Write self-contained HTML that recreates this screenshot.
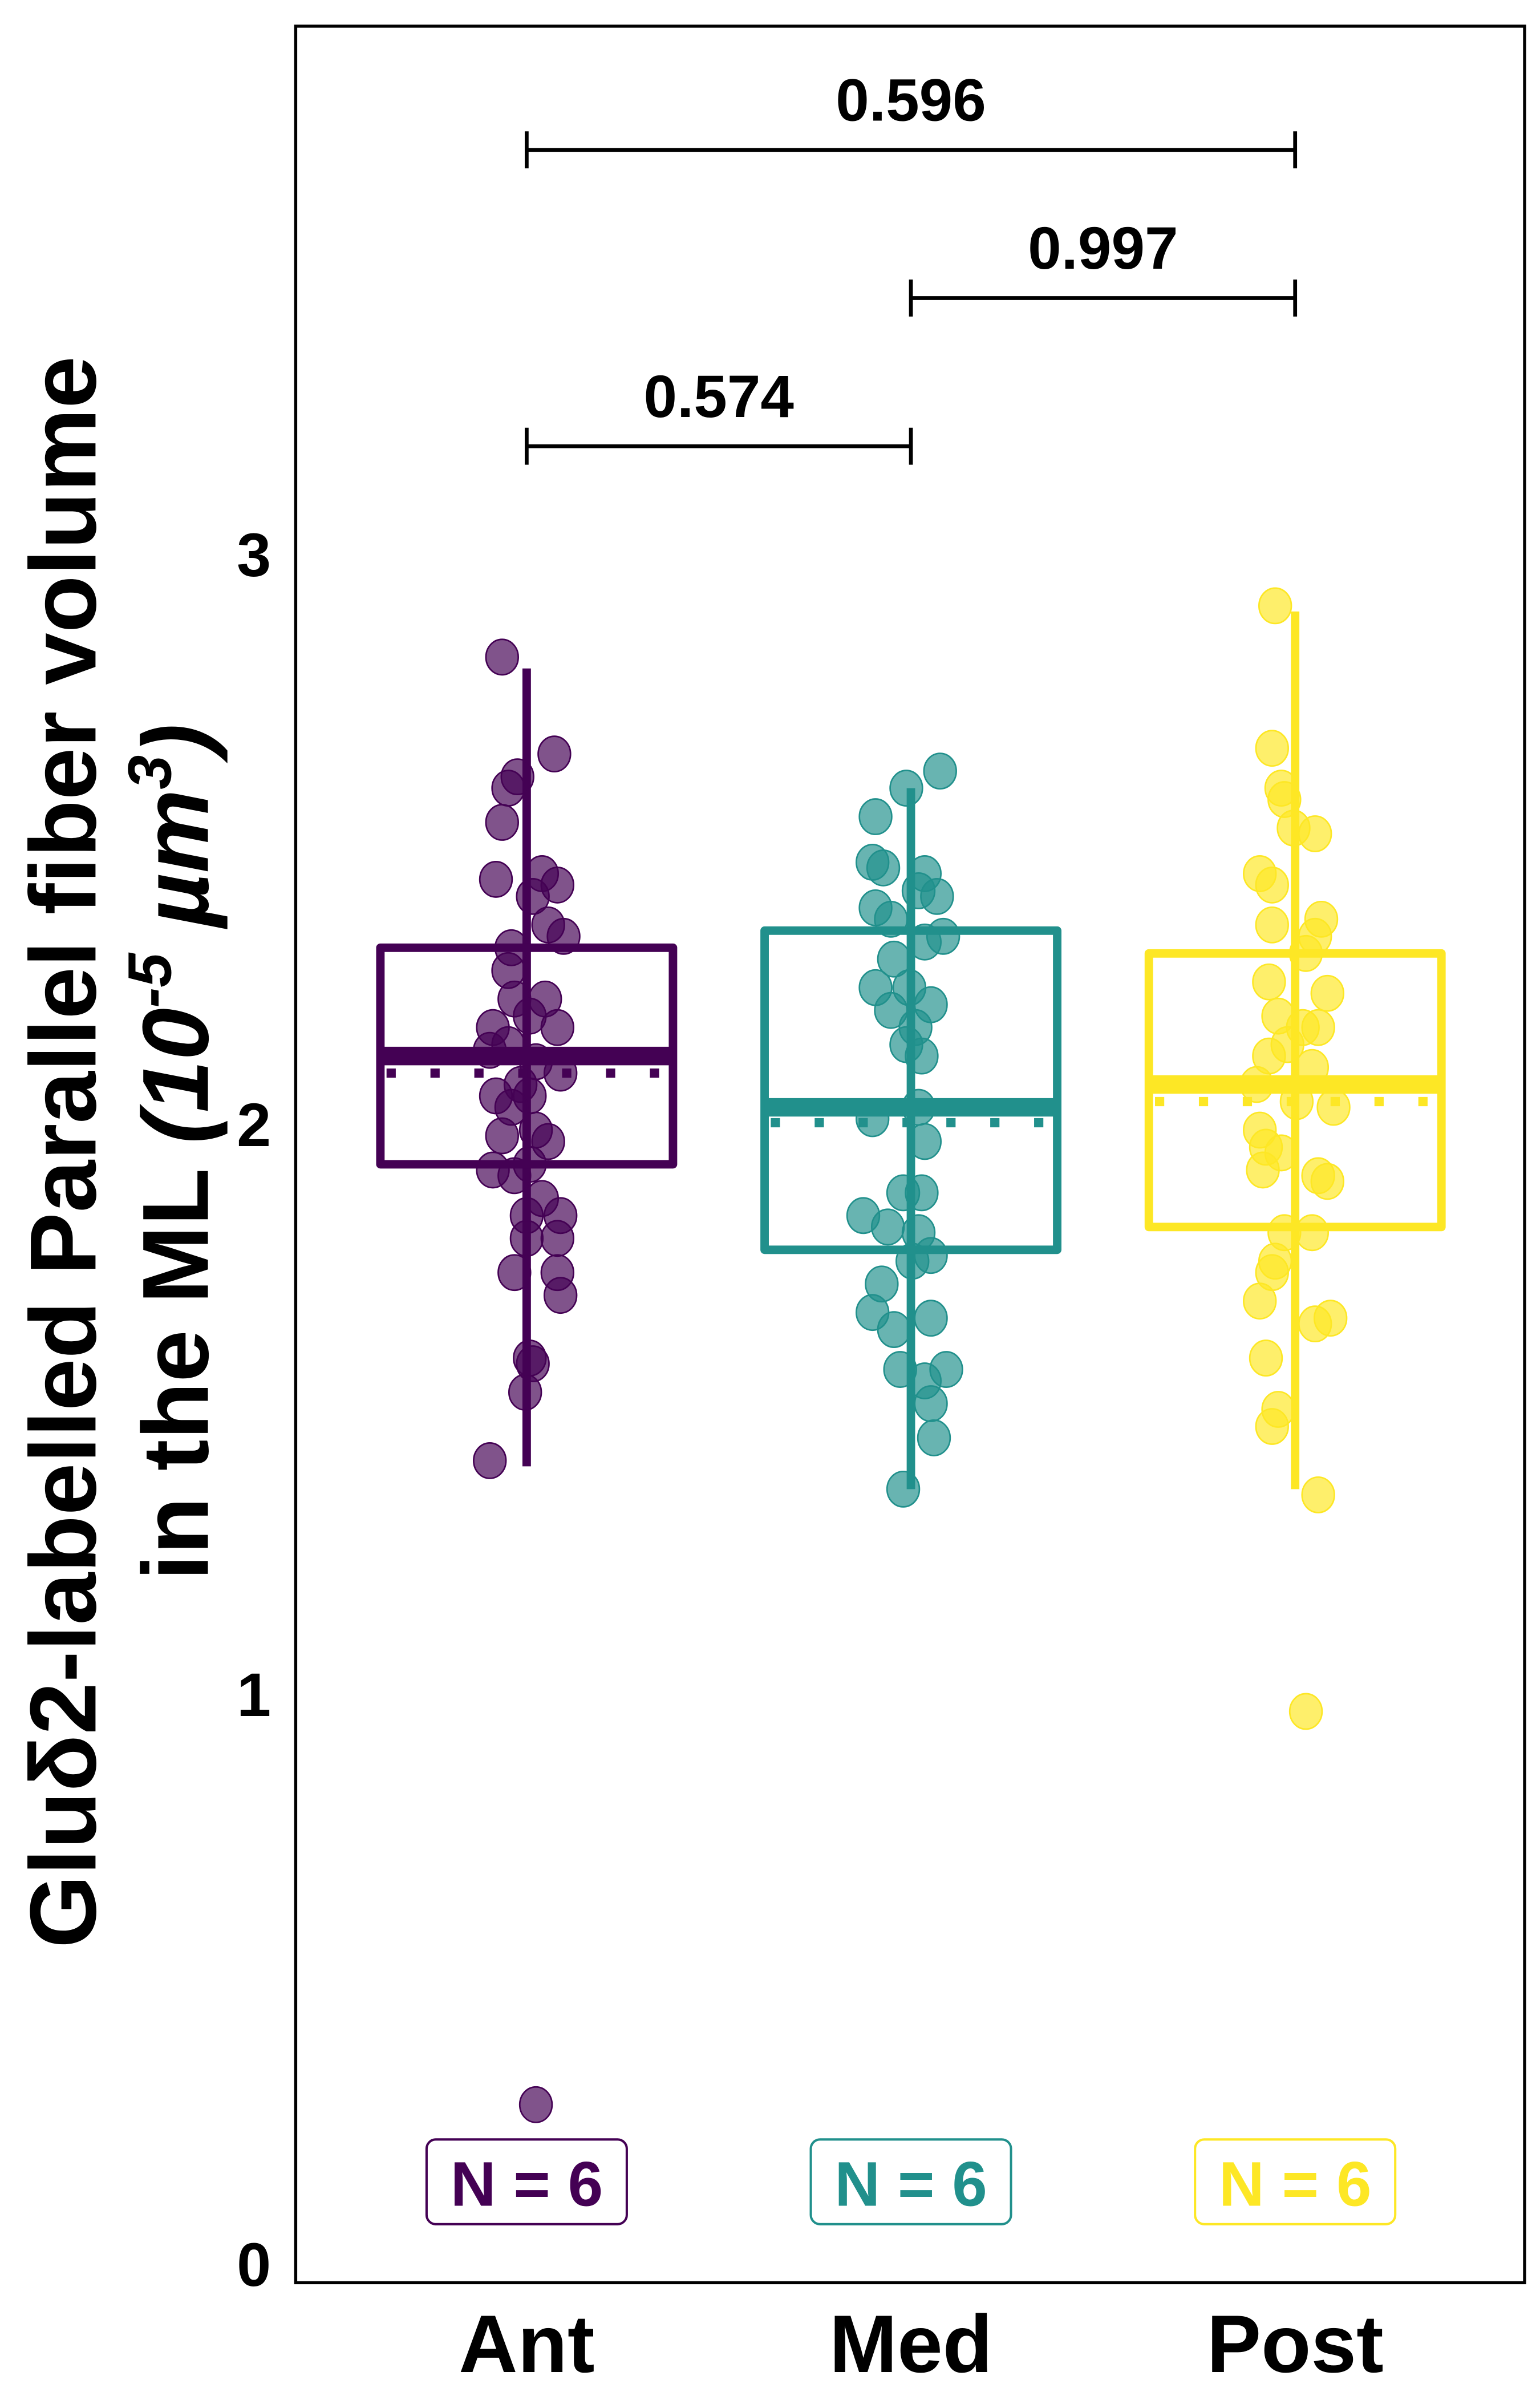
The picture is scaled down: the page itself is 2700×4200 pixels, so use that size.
<!DOCTYPE html>
<html><head><meta charset="utf-8"><style>html,body{margin:0;padding:0;background:#fff}svg{display:block}</style></head>
<body>
<svg id="chart" width="2700" height="4200" viewBox="0 0 1000 1555.56" xmlns="http://www.w3.org/2000/svg" font-family="Liberation Sans, DejaVu Sans, sans-serif" font-weight="bold"></svg>
<script>
const categories = ["Ant","Med","Post"];
const colors = ["#440154","#21908C","#FDE725"];
const q1 = [1.93,1.78,1.82];
const q3 = [2.31,2.34,2.30];
const medians = [2.12,2.03,2.07];
const means = [2.09,2.03,2.04];
const whiskLo = [1.40,1.36,1.36];
const whiskHi = [2.80,2.59,2.90];
const ptsAnt = [2.82,2.65,2.61,2.59,2.53,2.44,2.43,2.42,2.40,2.35,2.33,2.31,2.27,2.22,2.22,2.19,2.17,2.17,2.14,2.13,2.11,2.09,2.07,2.05,2.05,2.03,1.99,1.98,1.97,1.92,1.93,1.91,1.87,1.84,1.84,1.80,1.80,1.74,1.74,1.70,1.59,1.58,1.53,1.41,0.28];
const jitAnt = [-0.064,0.072,-0.024,-0.048,-0.064,0.04,-0.08,0.08,0.016,0.056,0.096,-0.04,-0.048,-0.032,0.048,0.008,0.08,-0.088,-0.048,-0.096,0.024,0.088,-0.016,-0.08,0.008,-0.04,0.024,-0.064,0.056,-0.088,0.008,-0.032,0.04,0,0.088,0,0.08,-0.032,0.08,0.088,0.008,0.016,-0.004,-0.096,0.024];
const ptsMed = [2.62,2.59,2.54,2.46,2.45,2.44,2.41,2.40,2.38,2.36,2.33,2.32,2.29,2.24,2.24,2.21,2.20,2.17,2.14,2.12,2.01,2.03,1.97,1.88,1.88,1.84,1.82,1.81,1.76,1.77,1.72,1.67,1.66,1.64,1.57,1.57,1.55,1.51,1.45,1.36];
const jitMed = [0.076,-0.012,-0.092,-0.1,-0.072,0.036,0.02,0.068,-0.092,-0.052,0.084,0.036,-0.044,-0.092,-0.004,0.052,-0.052,0.012,-0.012,0.028,-0.1,0.02,0.036,-0.02,0.028,-0.124,-0.06,0.02,0.004,0.052,-0.076,-0.1,0.052,-0.044,-0.028,0.092,0.036,0.052,0.06,-0.02];
const ptsPost = [2.91,2.66,2.59,2.57,2.52,2.51,2.44,2.42,2.36,2.35,2.33,2.30,2.25,2.23,2.19,2.17,2.17,2.14,2.12,2.10,2.07,2.04,2.03,1.99,1.96,1.95,1.92,1.91,1.90,1.81,1.81,1.76,1.74,1.69,1.66,1.65,1.59,1.50,1.47,1.35,0.97];
const jitPost = [-0.052,-0.06,-0.036,-0.028,-0.004,0.052,-0.092,-0.06,0.068,-0.06,0.052,0.028,-0.068,0.084,-0.044,0.02,0.06,-0.02,-0.068,0.044,-0.1,0.004,0.1,-0.092,-0.076,-0.036,-0.084,0.06,0.084,-0.028,0.044,-0.052,-0.06,-0.092,0.092,0.052,-0.076,-0.044,-0.06,0.06,0.028];
const points = [ptsAnt, ptsMed, ptsPost];
const jitters = [jitAnt, jitMed, jitPost];
const yTicks = [0,1,2,3];
const pLabels = ["0.574","0.997","0.596"];
const pFrom = [0,1,0];
const pTo = [1,2,2];
const pLevel = [3.19,3.45,3.71];
const nLabels = ["N = 6","N = 6","N = 6"];

const NS="http://www.w3.org/2000/svg";
const svg=document.getElementById('chart');
const L=192,R=990,T=17,B=1482;
const y=v=>1470-v*370;
const x=i=>342+i*249.5;
const band=249.5;
function el(tag,attrs,parent){const e=document.createElementNS(NS,tag);for(const k in attrs)e.setAttribute(k,attrs[k]);(parent||svg).appendChild(e);return e;}

const frame=el('rect',{x:L,y:T,width:R-L,height:B-T,fill:'none',stroke:'#000','stroke-width':2});



yTicks.forEach(t=>{
  const tx=el('text',{x:176,y:y(t)+14,'text-anchor':'end','font-size':40});
  tx.textContent=t;
  
  
});
categories.forEach((c,i)=>{
  const tx=el('text',{x:x(i),y:1540,'text-anchor':'middle','font-size':53});
  tx.textContent=c;
  
  
});

const yt=el('text',{transform:'translate(62,748) rotate(-90)','text-anchor':'middle','font-size':61});


yt.innerHTML='<tspan x="0" y="0">Gluδ2-labelled Parallel fiber volume</tspan><tspan x="0" y="73">in the ML <tspan font-style="italic">(10<tspan font-size="40" dy="-24">-5</tspan><tspan dy="24"> µm</tspan><tspan font-size="40" dy="-24">3</tspan><tspan dy="24">)</tspan></tspan></tspan>';

categories.forEach((c,i)=>{
  const g=el('g',{});
  
  
  const col=colors[i], cx=x(i), hw=95;
  const wl=el('line',{x1:cx,x2:cx,y1:y(whiskLo[i]),y2:y(whiskHi[i]),stroke:col,'stroke-width':5.5},g);
  
  
  points[i].forEach((v,k)=>{
    const p=el('ellipse',{cx:cx+jitters[i][k]*band,cy:y(v),rx:10.5,ry:11.5,fill:col,'fill-opacity':0.68,stroke:col,'stroke-width':1},g);
    
    
  });
  const bx=el('rect',{x:cx-hw,y:y(q3[i]),width:2*hw,height:y(q1[i])-y(q3[i]),fill:'none',stroke:col,'stroke-width':5.5,'stroke-linejoin':'round'},g);
  
  
  const md=el('line',{x1:cx-hw,x2:cx+hw,y1:y(medians[i]),y2:y(medians[i]),stroke:col,'stroke-width':12},g);
  
  
  const off=(Math.abs(means[i]-medians[i])<0.02?10:0);
  const mn=el('line',{x1:cx-hw,x2:cx+hw,y1:y(means[i])+off,y2:y(means[i])+off,stroke:col,'stroke-width':6,'stroke-dasharray':'6 22.5','stroke-dashoffset':'-4'},g);
  
  
  const nb=el('rect',{x:cx-65,y:1389,width:130,height:55,rx:6,fill:'#fff',stroke:col,'stroke-width':1.5},g);
  
  
  const nt=el('text',{x:cx,y:1432,'text-anchor':'middle','font-size':41,fill:col},g);
  nt.textContent=nLabels[i];
  
  
});

pLabels.forEach((lab,k)=>{
  const g=el('g',{});
  
  
  const yy=y(pLevel[k]), x1=x(pFrom[k]), x2=x(pTo[k]);
  el('path',{d:`M${x1},${yy+12}V${yy-12}M${x1},${yy}H${x2}M${x2},${yy+12}V${yy-12}`,stroke:'#000','stroke-width':2.5,fill:'none'},g);
  const t=el('text',{x:(x1+x2)/2,y:yy-19,'text-anchor':'middle','font-size':39},g);
  t.textContent=lab;
  
  
});
</script>
</body></html>
